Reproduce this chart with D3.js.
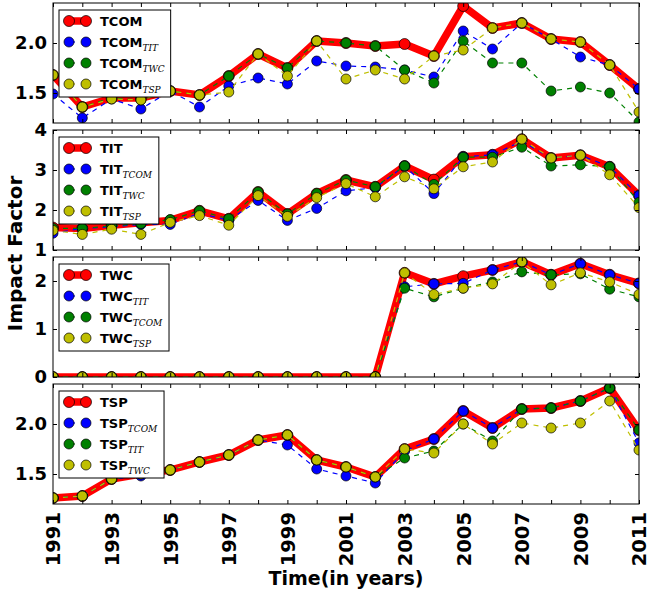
<!DOCTYPE html>
<html>
<head>
<meta charset="utf-8">
<script src="https://cdn.jsdelivr.net/npm/d3@7"></script>
<style>
	body { margin: 0; background: #fff; }
	svg { display: block; font-family: 'DejaVu Sans', sans-serif; }
	.tick text { font-weight: bold; font-family: 'DejaVu Sans', sans-serif; }
</style>
</head>
<body>
<div class="chart"></div>
<script>
// data
const years = d3.range(1991, 2012)

const tcom    = [1.68,1.36,1.45,1.45,1.52,1.48,1.67,1.89,1.75,2.02,2.00,1.97,1.99,1.87,2.37,2.15,2.20,2.04,2.01,1.78,1.54]
const tcomTIT = [1.49,1.25,1.44,1.34,1.52,1.36,1.57,1.65,1.59,1.82,1.77,1.76,1.73,1.66,2.12,1.94,2.20,2.04,1.86,1.78,1.54]
const tcomTWC = [1.68,1.36,1.45,1.43,1.52,1.48,1.67,1.89,1.75,2.02,2.00,1.97,1.73,1.60,2.02,1.80,1.80,1.52,1.56,1.50,1.21]
const tcomTSP = [1.68,1.36,1.44,1.43,1.52,1.48,1.51,1.89,1.67,2.02,1.64,1.73,1.64,1.87,1.93,2.15,2.20,2.04,2.01,1.78,1.31]

const tit     = [1.56,1.54,1.62,1.68,1.74,1.98,1.78,2.45,1.90,2.41,2.75,2.58,3.10,2.76,3.33,3.38,3.77,3.30,3.37,3.08,2.36]
const titTCOM = [1.42,1.54,1.58,1.64,1.64,1.92,1.74,2.24,1.74,2.04,2.48,2.56,3.10,2.41,3.33,3.38,3.72,3.30,3.37,3.08,2.36]
const titTWC  = [1.54,1.54,1.60,1.66,1.76,1.98,1.78,2.45,1.90,2.41,2.75,2.58,3.10,2.64,3.32,3.32,3.57,3.10,3.13,3.08,2.19]
const titTSP  = [1.49,1.39,1.52,1.39,1.69,1.86,1.62,2.36,1.84,2.31,2.66,2.33,2.83,2.53,3.08,3.20,3.77,3.30,3.37,2.88,2.06]

const twc     = [0,0,0,0,0,0,0,0,0,0,0,0,2.17,1.94,2.10,2.23,2.40,2.13,2.36,2.13,1.95]
const twcTIT  = [0,0,0,0,0,0,0,0,0,0,0,0,1.88,1.94,1.95,2.23,2.40,2.13,2.36,2.13,1.95]
const twcTCOM = [0,0,0,0,0,0,0,0,0,0,0,0,1.85,1.67,1.85,1.98,2.19,2.13,2.15,1.83,1.67]
const twcTSP  = [0,0,0,0,0,0,0,0,0,0,0,0,2.17,1.72,1.85,1.94,2.40,1.92,2.17,1.98,1.72]

const tsp     = [1.26,1.28,1.45,1.50,1.54,1.62,1.69,1.84,1.89,1.64,1.57,1.47,1.75,1.85,2.13,1.96,2.15,2.16,2.23,2.36,1.94]
const tspTCOM = [1.26,1.28,1.45,1.48,1.54,1.62,1.69,1.84,1.79,1.55,1.48,1.41,1.73,1.85,2.13,1.96,2.15,2.16,2.23,2.36,1.81]
const tspTIT  = [1.26,1.28,1.45,1.50,1.54,1.62,1.69,1.84,1.89,1.64,1.57,1.47,1.66,1.73,2.00,1.83,2.15,2.16,2.23,2.36,1.94]
const tspTWC  = [1.26,1.28,1.45,1.50,1.54,1.62,1.69,1.84,1.89,1.64,1.57,1.47,1.75,1.71,2.00,1.80,2.01,1.96,2.01,2.23,1.74]

const panels = [
	{ name: 'TCOM', domain: [1.2, 2.4], ticks: [1.5, 2.0], fmt: '.1f',
		subs: [null, 'TIT', 'TWC', 'TSP'], values: [tcom, tcomTIT, tcomTWC, tcomTSP] },
	{ name: 'TIT', domain: [1, 4], ticks: [1, 2, 3, 4], fmt: 'd',
		subs: [null, 'TCOM', 'TWC', 'TSP'], values: [tit, titTCOM, titTWC, titTSP] },
	{ name: 'TWC', domain: [0, 2.5], ticks: [0, 1, 2], fmt: 'd',
		subs: [null, 'TIT', 'TCOM', 'TSP'], values: [twc, twcTIT, twcTCOM, twcTSP] },
	{ name: 'TSP', domain: [1.2, 2.4], ticks: [1.5, 2.0], fmt: '.1f',
		subs: [null, 'TCOM', 'TIT', 'TWC'], values: [tsp, tspTCOM, tspTIT, tspTWC] }
]

// one style per series slot: main, then the three dashed ones
const styles = [
	{ color: '#ff0000', width: 7.5, dash: null, r: 5.5 },
	{ color: '#0000ff', width: 1.2, dash: '5,5', r: 5 },
	{ color: '#008000', width: 1.2, dash: '5,5', r: 5 },
	{ color: '#bfbf00', width: 1.2, dash: '5,5', r: 5 }
]

const width = 656
const height = 591
const margin = { top: 3, left: 53, right: 17 }
const panelH = 120
const step = 127

const svg = d3.select('.chart')
	.append('svg')
	.attr('width', width)
	.attr('height', height)

const x = d3.scaleLinear()
	.domain([1991, 2011])
	.range([margin.left, width - margin.right])

panels.forEach((p, i) => {
	const top = margin.top + i * step
	const y = d3.scaleLinear()
		.domain(p.domain)
		.range([top + panelH, top])

	const g = svg.append('g').attr('class', 'panel')

	g.append('clipPath')
		.attr('id', 'clip' + i)
		.append('rect')
		.attr('x', x.range()[0])
		.attr('y', top)
		.attr('width', x.range()[1] - x.range()[0])
		.attr('height', panelH)

	const plot = g.append('g').attr('clip-path', `url(#clip${i})`)

	p.values.forEach((vals, k) => {
		const s = styles[k]
		const pts = years.map((yr, j) => [yr, vals[j]])
		const line = d3.line()
			.x(d => x(d[0]))
			.y(d => y(d[1]))
		plot.append('path')
			.datum(pts)
			.attr('d', line)
			.attr('fill', 'none')
			.attr('stroke', s.color)
			.attr('stroke-width', s.width)
			.attr('stroke-dasharray', s.dash)
			.attr('stroke-linejoin', 'round')
		plot.selectAll(null)
			.data(pts)
			.join('circle')
			.attr('cx', d => x(d[0]))
			.attr('cy', d => y(d[1]))
			.attr('r', s.r)
			.attr('fill', s.color)
			.attr('stroke', '#000')
			.attr('stroke-width', 0.7)
	})

	// axes, ticks inward on all four sides
	const fmt = d3.format(p.fmt)
	g.append('g')
		.attr('transform', `translate(${x.range()[0]},0)`)
		.call(d3.axisLeft(y).tickValues(p.ticks).tickSize(-4).tickPadding(6).tickFormat(fmt))
		.call(a => a.select('.domain').remove())
		.selectAll('text').attr('font-size', 18)
	g.append('g')
		.attr('transform', `translate(${x.range()[1]},0)`)
		.call(d3.axisRight(y).tickValues(p.ticks).tickSize(-4).tickFormat(''))
		.call(a => a.select('.domain').remove())
	g.append('g')
		.attr('transform', `translate(0,${top})`)
		.call(d3.axisTop(x).tickValues(years).tickSize(-4).tickFormat(''))
		.call(a => a.select('.domain').remove())
	const bottom = g.append('g')
		.attr('transform', `translate(0,${top + panelH})`)
		.call(d3.axisBottom(x).tickValues(years).tickSize(-4)
			.tickFormat(d => (i === panels.length - 1 && d % 2 === 1) ? d : ''))
		.call(a => a.select('.domain').remove())
	bottom.selectAll('text')
		.attr('font-size', 19.5)
		.attr('transform', 'rotate(-90)')
		.attr('x', -8)
		.attr('y', 0)
		.attr('dy', '0.35em')
		.attr('text-anchor', 'end')

	g.append('rect')
		.attr('x', x.range()[0])
		.attr('y', top)
		.attr('width', x.range()[1] - x.range()[0])
		.attr('height', panelH)
		.attr('fill', 'none')
		.attr('stroke', '#000')
		.attr('stroke-width', 1)

	// legend, upper left
	const leg = g.append('g')
		.attr('transform', `translate(${x.range()[0] + 6},${top + 7})`)
	const frame = leg.append('rect')
		.attr('fill', '#fff')
		.attr('stroke', '#000')
		.attr('stroke-width', 1)
	p.subs.forEach((sub, k) => {
		const s = styles[k]
		const row = leg.append('g').attr('transform', `translate(0,${11 + k * 21})`)
		row.append('line')
			.attr('x1', 10).attr('x2', 27)
			.attr('stroke', s.color)
			.attr('stroke-width', s.width)
			.attr('stroke-dasharray', s.dash ? '6,20' : null)
		row.selectAll(null)
			.data([10, 27])
			.join('circle')
			.attr('cx', d => d)
			.attr('r', s.r)
			.attr('fill', s.color)
			.attr('stroke', '#000')
			.attr('stroke-width', 0.7)
		const t = row.append('text')
			.attr('x', 41)
			.attr('dy', '0.36em')
			.attr('font-size', 13)
			.attr('font-weight', 'bold')
			.text(p.name)
		if (sub) {
			t.append('tspan')
				.attr('dy', 4)
				.attr('font-family', 'DejaVu Serif')
				.attr('font-style', 'italic')
				.attr('font-weight', 'normal')
				.attr('font-size', 9)
				.text(sub)
		}
	})
	const bb = leg.node().getBBox()
	frame.attr('x', 0).attr('y', 0)
		.attr('width', bb.x + bb.width + 6)
		.attr('height', 87)
})

svg.append('text')
	.attr('transform', `translate(22,${margin.top + (3 * step + panelH) / 2}) rotate(-90)`)
	.attr('text-anchor', 'middle')
	.attr('font-size', 20)
	.attr('font-weight', 'bold')
	.text('Impact Factor')

svg.append('text')
	.attr('x', (x.range()[0] + x.range()[1]) / 2)
	.attr('y', 585)
	.attr('text-anchor', 'middle')
	.attr('font-size', 19)
	.attr('font-weight', 'bold')
	.text('Time(in years)')
</script>
</body>
</html>
